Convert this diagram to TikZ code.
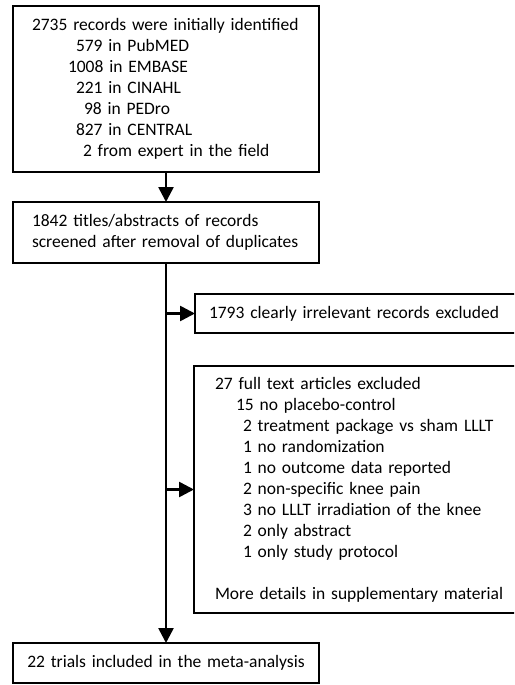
\documentclass[tikz,border=0pt]{standalone}
\usepackage{fontspec}
\setmainfont{Carlito}
\usetikzlibrary{arrows.meta,positioning,calc}

\begin{document}
\begin{tikzpicture}[
		every node/.style={font=\fontsize{17.5pt}{21pt}\selectfont},
		proc/.style={draw, line width=2.6pt, outer sep=0pt, align=left, inner xsep=19pt, inner ysep=0pt, text width=268pt, minimum height=40pt},
		side/.style={proc, inner xsep=14pt, text width=307pt},
		barrow/.style={-{Triangle[length=15pt, width=15pt]}, line width=2.6pt}
	]
		\useasboundingbox (0,0) rectangle (514pt,-685pt);
		\clip (0,0) rectangle (514pt,-685pt);

		\node[proc, anchor=north west, minimum height=166pt]
			(src)
			at (13pt,-6pt)
			{2735 records were initially identified \\
			\hspace*{44pt}579 in PubMED \\
			\hspace*{36pt}1008 in EMBASE \\
			\hspace*{44pt}221 in CINAHL \\
			\hspace*{52pt}98 in PEDro \\
			\hspace*{44pt}827 in CENTRAL \\
			\hspace*{51pt}2 from expert in the field};
		\node[proc, below=30pt of src, minimum height=61pt]
			(screen)
			{1842 titles/abstracts of records \\ screened after removal of duplicates};
		\node[side, below right=31pt and 29pt of screen.south, minimum height=39pt]
			(irrel)
			{1793 clearly irrelevant records excluded};
		\node[side, inner xsep=21pt, text width=294pt, below right=33pt and -1pt of irrel.south west, minimum height=247pt]
			(full)
			{27 full text articles excluded \\
			\hspace*{21pt}15 no placebo-control \\
			\hspace*{28pt}2 treatment package vs sham LLLT \\
			\hspace*{28pt}1 no randomization \\
			\hspace*{28pt}1 no outcome data reported \\
			\hspace*{28pt}2 non-specific knee pain \\
			\hspace*{28pt}3 no LLLT irradiation of the knee \\
			\hspace*{28pt}2 only abstract \\
			\hspace*{28pt}1 only study protocol \\[21pt]
			More details in supplementary material};
		\node[proc, align=center, inner xsep=6pt, text width=294pt, below=380pt of screen]
			(incl)
			{22 trials included in the meta-analysis};

		% main flow
		\draw[barrow] (src) -- (screen);
		\draw[barrow] (screen) -- (incl);

		% exclusions branch off the trunk
		\coordinate (j1) at (screen.south |- irrel.west);
		\coordinate (j2) at (screen.south |- full.west);
		\draw[barrow] (j1) -- (irrel.west);
		\draw[barrow] (j2) -- (full.west);
	\end{tikzpicture}
\end{document}
